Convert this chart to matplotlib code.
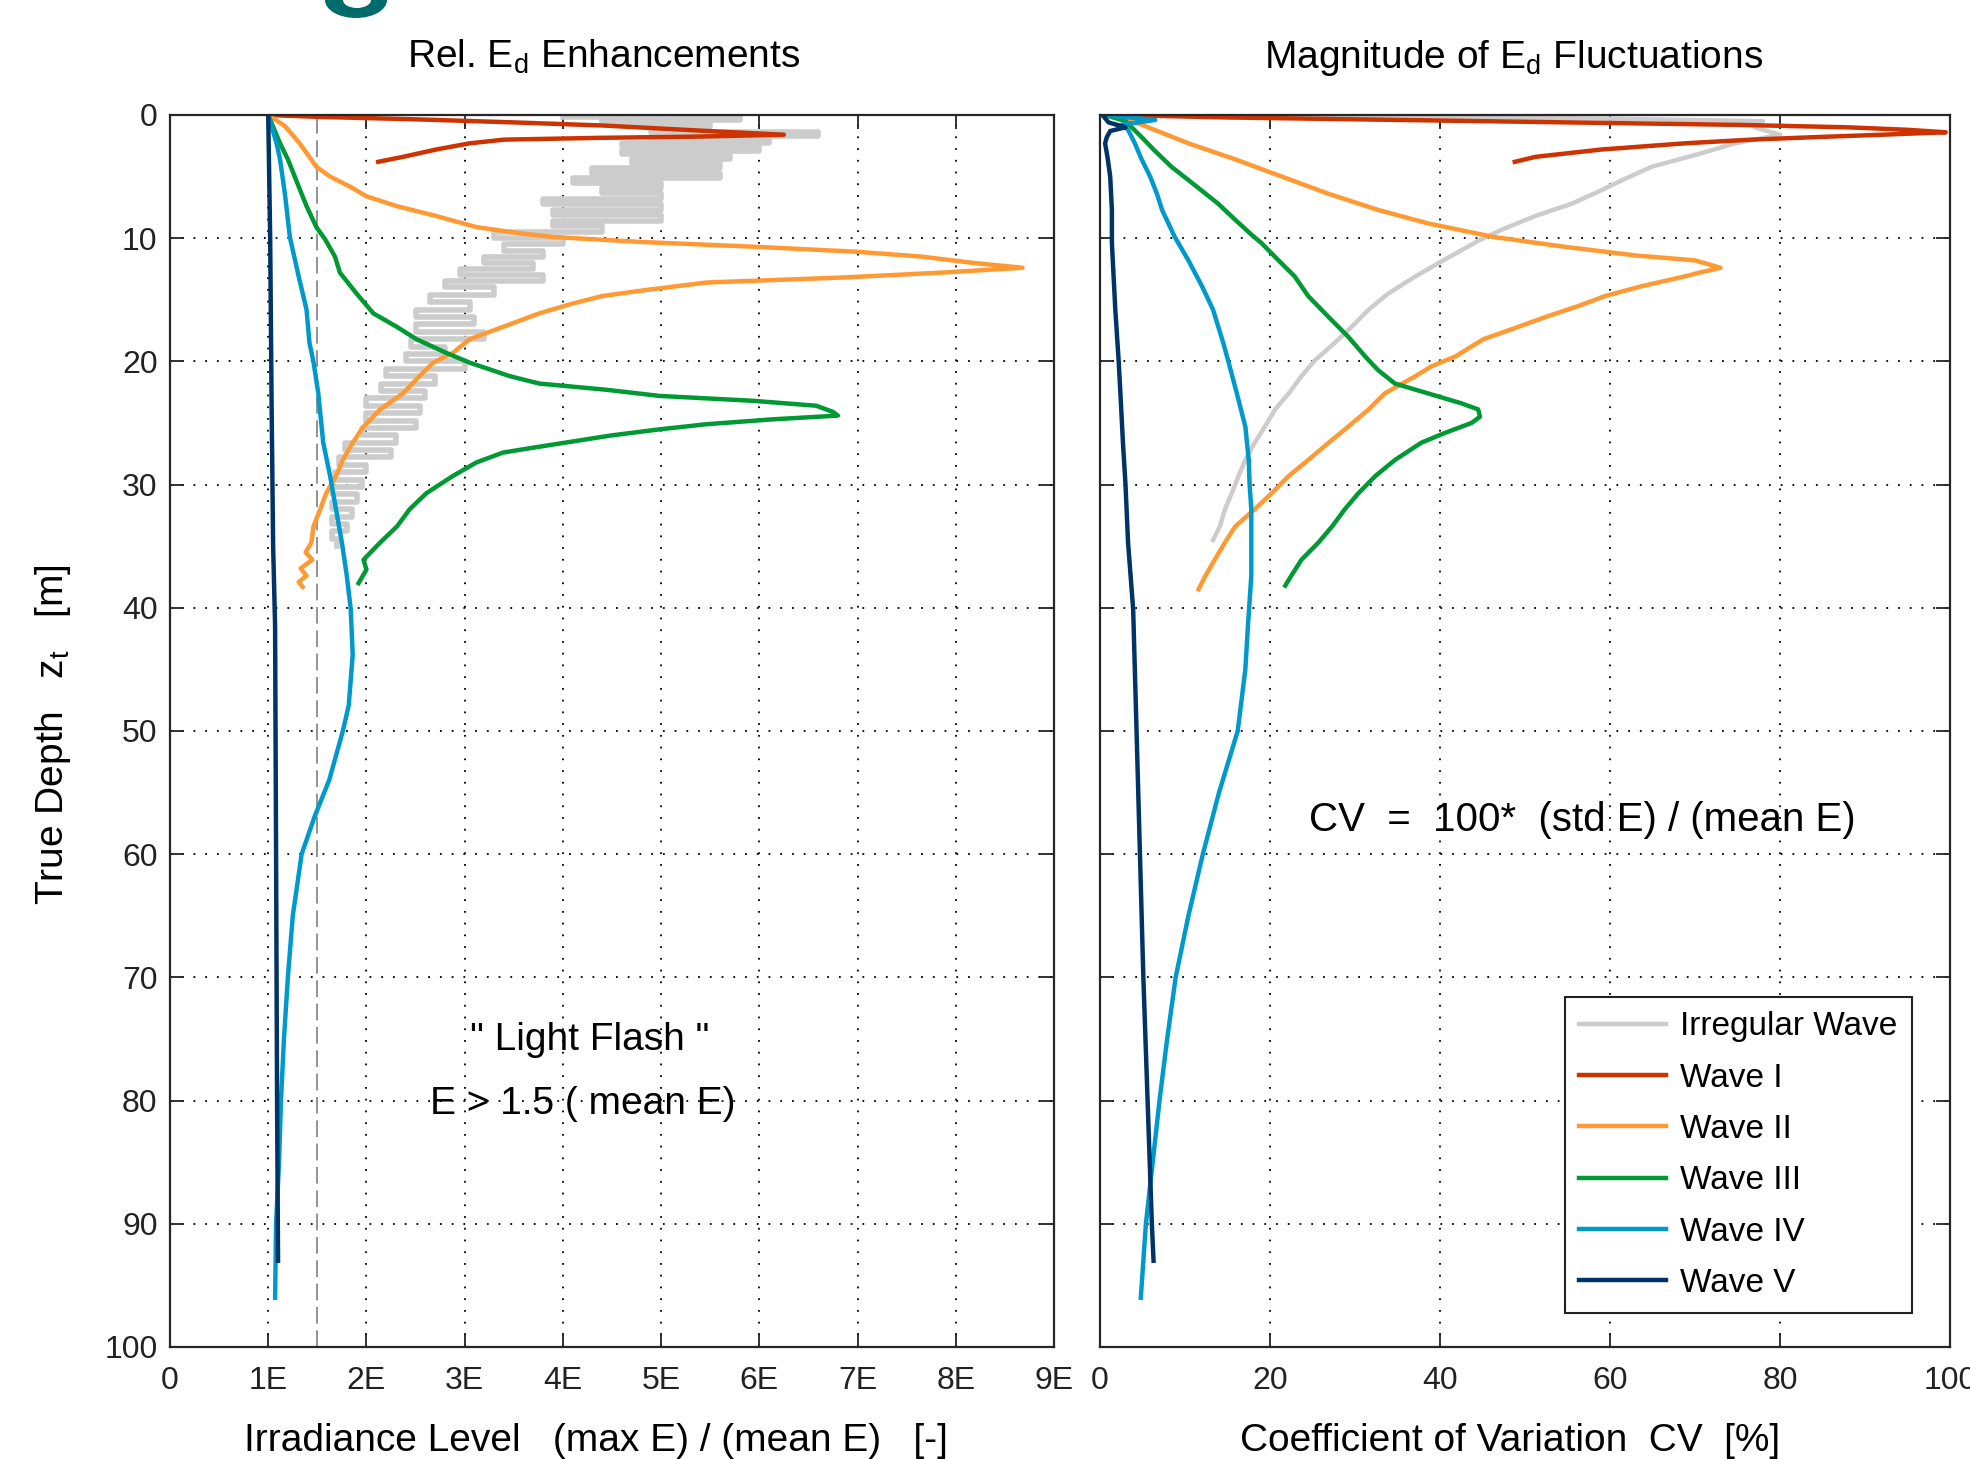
import matplotlib
matplotlib.use("Agg")
import matplotlib.pyplot as plt
from matplotlib.patches import Ellipse

plt.rcParams['font.family'] = ['Liberation Sans', 'DejaVu Sans']
plt.rcParams['mathtext.fontset'] = 'custom'
plt.rcParams['mathtext.rm'] = 'Liberation Sans'

# ---- left panel: (max E) / (mean E) vs depth ----
irr_depth_l = [0.2, 0.4, 0.7, 1.0, 1.4, 1.7, 2.0, 2.3, 2.6, 2.9, 3.2, 3.6, 3.9, 4.3, 4.7,
               5.1, 5.5, 5.9, 6.3, 6.8, 7.2, 7.7, 8.1, 8.6, 9.0, 9.5, 10.0, 10.5, 11.0,
               11.5, 12.0, 12.5, 13.0, 13.5, 14.0, 14.6, 15.2, 15.8, 16.4, 17.0, 17.6,
               18.2, 18.8, 19.4, 20.0, 20.6, 21.2, 21.8, 22.4, 23.0, 23.6, 24.2, 24.8,
               25.4, 26.0, 26.6, 27.2, 27.8, 28.4, 29.0, 29.6, 30.2, 30.8, 31.4, 32.0,
               32.6, 33.2, 33.8, 34.4, 35.0]
irr_max = [4.0, 5.8, 4.4, 5.5, 4.9, 6.6, 4.9, 6.1, 4.6, 6.0, 4.6, 5.7, 4.7, 5.6, 4.3,
           5.6, 4.1, 5.0, 4.4, 5.0, 3.8, 5.0, 3.9, 5.0, 3.9, 4.4, 3.3, 4.0, 3.4,
           3.8, 3.2, 3.7, 2.95, 3.8, 2.8, 3.3, 2.65, 3.05, 2.5, 3.1, 2.5,
           3.2, 2.45, 2.8, 2.4, 3.0, 2.2, 2.7, 2.15, 2.6, 2.0, 2.55, 2.0,
           2.5, 1.95, 2.3, 1.78, 2.25, 1.72, 2.0, 1.68, 1.95, 1.65, 1.9, 1.65,
           1.85, 1.65, 1.8, 1.65, 1.7]

w1_depth_l = [0.0, 0.15, 0.35, 0.6, 0.85, 1.1, 1.35, 1.6, 1.75, 1.85, 2.0, 2.3, 2.8, 3.4, 3.8]
w1_max = [1.0, 1.5, 2.5, 3.5, 4.4, 5.0, 5.6, 6.25, 5.4, 4.4, 3.4, 3.05, 2.71, 2.37, 2.12]

w2_depth_l = [0, 0.9, 2.3, 4.2, 5.0, 5.8, 6.6, 7.4, 8.2, 9.1, 9.6, 9.9, 10.3, 10.7, 11.1,
              11.5, 12.0, 12.4, 12.8, 13.2, 13.6, 14.2, 14.7, 15.3, 16.1, 17.2, 18.2,
              19.3, 20.1, 21.2, 22.6, 23.9, 25.3, 26.6, 28.0, 29.3, 30.7, 32.0, 33.4,
              34.7, 35.5, 36.1, 36.8, 37.4, 37.9, 38.3]
w2_max = [1.0, 1.17, 1.32, 1.49, 1.63, 1.83, 2.0, 2.31, 2.71, 3.12, 3.56, 3.9, 4.78, 5.97, 6.99,
          7.66, 8.17, 8.68, 7.84, 6.82, 5.46, 4.85, 4.4, 4.1, 3.76, 3.39, 3.05,
          2.88, 2.68, 2.54, 2.37, 2.14, 1.97, 1.86, 1.76, 1.69, 1.59, 1.53, 1.46,
          1.44, 1.38, 1.45, 1.33, 1.39, 1.31, 1.35]

w3_depth_l = [0, 2.3, 3.6, 5.8, 7.4, 9.1, 10.1, 11.5, 12.8, 14.5, 16.1, 17.2, 18.2, 19.3,
              20.1, 21.2, 21.8, 22.3, 22.8, 23.2, 23.6, 24.1, 24.4, 24.7, 25.1, 25.5,
              26.0, 26.5, 27.0, 27.4, 28.2, 29.3, 30.7, 32.0, 33.4, 34.7, 36.1, 36.9, 38.0]
w3_max = [1.0, 1.12, 1.2, 1.31, 1.39, 1.49, 1.58, 1.68, 1.73, 1.9, 2.07, 2.31, 2.51, 2.81,
          3.05, 3.46, 3.76, 4.44, 4.98, 5.94, 6.58, 6.75, 6.8, 6.14, 5.46, 5.0,
          4.5, 4.1, 3.7, 3.39, 3.12, 2.88, 2.61, 2.44, 2.31, 2.14, 1.97, 2.0, 1.92]

w4_depth_l = [0, 2.3, 3.6, 6.4, 9.9, 13.1, 15.8, 18.5, 20, 22.6, 26.6, 29.3, 32, 34.7, 37.4,
              40.1, 43.8, 47.9, 50, 52, 54, 57, 60, 65, 70, 75, 80, 85, 90, 96]
w4_max = [1.0, 1.085, 1.12, 1.17, 1.22, 1.31, 1.39, 1.42, 1.46, 1.51, 1.56, 1.63, 1.69, 1.75, 1.80,
          1.84, 1.86, 1.82, 1.76, 1.69, 1.62, 1.47, 1.34, 1.25, 1.20, 1.16, 1.13, 1.11, 1.08, 1.07]

w5_depth_l = [0, 10, 24, 35, 41.5, 60, 80, 93]
w5_max = [1.0, 1.02, 1.035, 1.05, 1.07, 1.08, 1.09, 1.10]

# ---- right panel: coefficient of variation vs depth ----
irr_depth_r = [0.0, 0.3, 0.5, 1.0, 1.6, 2.3, 3.1, 4.2, 5.3, 6.1, 7.2, 8.2, 9.3, 10.1, 11.8,
               13.1, 14.5, 15.8, 17.2, 18.5, 19.9, 21.2, 22.6, 23.9, 25.3, 26.6, 28.0,
               29.3, 30.7, 32.0, 33.4, 34.5]
irr_cv = [20, 60, 78, 77, 80, 74.7, 70.8, 64.9, 61.4, 59, 55.5, 51.2, 47.3, 44.8, 40.4,
          37.1, 33.9, 31.6, 29.6, 27.6, 25.3, 23.7, 22.2, 20.6, 19.4, 18.2, 17.1,
          16.3, 15.5, 14.7, 14.1, 13.3]

w1_depth_r = [0.0, 0.2, 0.4, 0.6, 0.8, 1.0, 1.2, 1.4, 1.6, 1.8, 2.0, 2.3, 2.8, 3.4, 3.8]
w1_cv = [2, 15, 35, 55, 75, 88, 95, 99.5, 92, 84, 76.6, 68.8, 59, 51.2, 48.8]

w2_depth_r = [0, 0.9, 2.3, 3.6, 5.0, 6.4, 7.7, 8.8, 9.9, 10.7, 11.4, 11.8, 12.4, 12.8, 13.1,
              13.9, 14.7, 15.5, 16.4, 17.2, 18.2, 19.6, 20.4, 21.2, 22.6, 23.9, 25.3,
              26.6, 28.0, 29.3, 30.7, 32.0, 33.4, 34.7, 36.1, 37.4, 38.5]
w2_cv = [1.8, 5.3, 10.4, 15.9, 21.4, 26.9, 32.7, 38.6, 46.3, 54.7, 63.0, 70.0, 73.0, 70.5, 68.8,
         63.7, 59.4, 56.3, 52.4, 49.2, 45.1, 41.8, 39.0, 37.1, 33.5, 31.6, 29.2,
         26.9, 24.5, 22.2, 20.2, 18.2, 15.9, 14.7, 13.5, 12.4, 11.6]

w3_depth_r = [0, 0.5, 1.8, 2.8, 4.2, 5.5, 7.2, 8.5, 9.7, 10.4, 11.8, 13.1, 14.7, 16.4, 18.0,
              19.6, 20.7, 21.8, 22.6, 23.4, 23.9, 24.5, 25.0, 25.8, 26.6, 28.0, 29.3,
              30.7, 32.0, 33.4, 34.7, 36.1, 37.4, 38.2]
w3_cv = [0.6, 3.0, 4.9, 6.3, 8.4, 10.8, 13.9, 15.9, 17.8, 19.0, 21.0, 22.9, 24.5, 26.9, 29.2,
         31.2, 32.7, 34.7, 38.6, 42.5, 44.5, 44.7, 43.7, 40.6, 37.8, 34.7, 32.4,
         30.4, 28.8, 27.3, 25.7, 23.7, 22.5, 21.8]

w4_depth_r = [0, 0.4, 0.8, 1.2, 2.3, 3.6, 5.0, 6.4, 7.7, 9.9, 11.8, 13.9, 15.8, 18.5, 20.0,
              22.6, 25.3, 28.0, 30.0, 32.0, 34.7, 37.4, 41.5, 45, 50, 55, 60, 65, 70, 75,
              80, 85, 90, 96]
w4_cv = [0.5, 6.5, 2.5, 3.3, 4.1, 4.9, 5.9, 6.7, 7.3, 8.8, 10.4, 12.0, 13.3, 14.5, 15.1,
         16.1, 17.1, 17.5, 17.6, 17.8, 17.8, 17.8, 17.4, 17.1, 16.2, 14.0, 12.1, 10.4, 8.9, 7.9,
         7.0, 6.2, 5.4, 4.8]

w5_depth_r = [0, 0.6, 1.0, 1.3, 1.8, 2.3, 3.5, 5.0, 7.7, 10.4, 13.1, 15.8, 20, 23.9, 26.6,
              30, 34.7, 40.1, 50, 60, 70, 80, 90, 93]
w5_cv = [0.3, 1.0, 3.0, 1.2, 0.8, 0.6, 0.9, 1.2, 1.4, 1.4, 1.6, 1.8, 2.2, 2.5, 2.7,
         3.0, 3.3, 3.9, 4.3, 4.7, 5.1, 5.6, 6.1, 6.3]

names = ['Irregular Wave', 'Wave I', 'Wave II', 'Wave III', 'Wave IV', 'Wave V']
colors = ['#cccccc', '#cc3300', '#ff9933', '#009933', '#0099cc', '#003366']

left_series = [(irr_max, irr_depth_l), (w1_max, w1_depth_l), (w2_max, w2_depth_l),
               (w3_max, w3_depth_l), (w4_max, w4_depth_l), (w5_max, w5_depth_l)]
right_series = [(irr_cv, irr_depth_r), (w1_cv, w1_depth_r), (w2_cv, w2_depth_r),
                (w3_cv, w3_depth_r), (w4_cv, w4_depth_r), (w5_cv, w5_depth_r)]

fig = plt.figure(figsize=(19.7, 14.59), dpi=100)
W, H = 1970, 1459
ax1 = fig.add_axes([170 / W, 1 - 1347 / H, 884 / W, 1232 / H])
ax2 = fig.add_axes([1100 / W, 1 - 1347 / H, 850 / W, 1232 / H])

LABEL_FS = 28

for ax in (ax1, ax2):
    ax.set_ylim(100, 0)
    ax.set_yticks(range(0, 101, 10))
    ax.grid(True, color='black', linestyle=(0, (1, 5.5)), linewidth=1.3)
    ax.set_axisbelow(True)
    ax.tick_params(direction='in', length=10, width=1.3, top=True, right=True,
                   labelsize=23, colors='#222222')
    ax.tick_params(axis='x', pad=14)
    ax.tick_params(axis='y', pad=9)
    for s in ax.spines.values():
        s.set_linewidth(1.6)
        s.set_color('#262626')

# left panel
ax1.axvline(1.5, color='#808080', lw=1.2, ls=(0, (10, 4)), zorder=1)
for (x, d), c, n in zip(left_series, colors, names):
    if n == 'Irregular Wave':
        ax1.plot(x, d, color=c, lw=4.0, drawstyle='steps-post')
    else:
        ax1.plot(x, d, color=c, lw=3.2)
ax1.set_xlim(0, 9)
ax1.set_xticks(range(10))
ax1.set_xticklabels(['0'] + ['%dE' % i for i in range(1, 10)])
ax1.text(4.27, 75.1, '" Light Flash "', ha='center', va='center', fontsize=28)
ax1.text(4.2, 80.3, 'E > 1.5 ( mean E)', ha='center', va='center', fontsize=28)
ax1.text(0.49, 1.038, r'Rel. E$_\mathregular{d}$ Enhancements', transform=ax1.transAxes,
         ha='center', va='baseline', fontsize=LABEL_FS)
ax1.set_xlabel('Irradiance Level   (max E) / (mean E)   [-]', fontsize=LABEL_FS)
ax1.xaxis.set_label_coords(0.482, -0.076)
ax1.xaxis.label.set_va('center')
ax1.set_ylabel(r'True Depth   z$_\mathregular{t}$   [m]', fontsize=LABEL_FS)
ax1.yaxis.set_label_coords(-0.132, 0.497)
ax1.yaxis.label.set_va('center')

# right panel
handles = []
for (x, d), c, n in zip(right_series, colors, names):
    h, = ax2.plot(x, d, color=c, lw=3.2, label=n)
    handles.append(h)
ax2.set_xlim(0, 100)
ax2.set_xticks(range(0, 101, 20))
ax2.set_yticklabels([])
ax2.text(56.8, 57.2, 'CV  =  100*  (std E) / (mean E)', ha='center', va='center', fontsize=29)
ax2.text(0.487, 1.038, r'Magnitude of E$_\mathregular{d}$ Fluctuations', transform=ax2.transAxes,
         ha='center', va='baseline', fontsize=LABEL_FS)
ax2.set_xlabel('Coefficient of Variation  CV  [%]', fontsize=LABEL_FS)
ax2.xaxis.set_label_coords(0.482, -0.076)
ax2.xaxis.label.set_va('center')

leg = ax2.legend(handles=handles, loc='lower right', bbox_to_anchor=(0.955, 0.0276),
                 borderaxespad=0, fontsize=24, labelspacing=0.61, handlelength=2.6,
                 handletextpad=0.45, borderpad=0.42, fancybox=False, framealpha=1)
leg.get_frame().set_edgecolor('#222222')
leg.get_frame().set_linewidth(1.5)

# cropped panel letter at the top edge
fig.add_artist(Ellipse((356 / W, 1.0), 62 / W, 36 / H, transform=fig.transFigure,
                       facecolor='#006b6b', edgecolor='none'))
fig.add_artist(Ellipse((357 / W, 1.0), 28 / W, 16 / H, transform=fig.transFigure,
                       facecolor='white', edgecolor='none'))

fig.savefig('out.png', dpi=100)
